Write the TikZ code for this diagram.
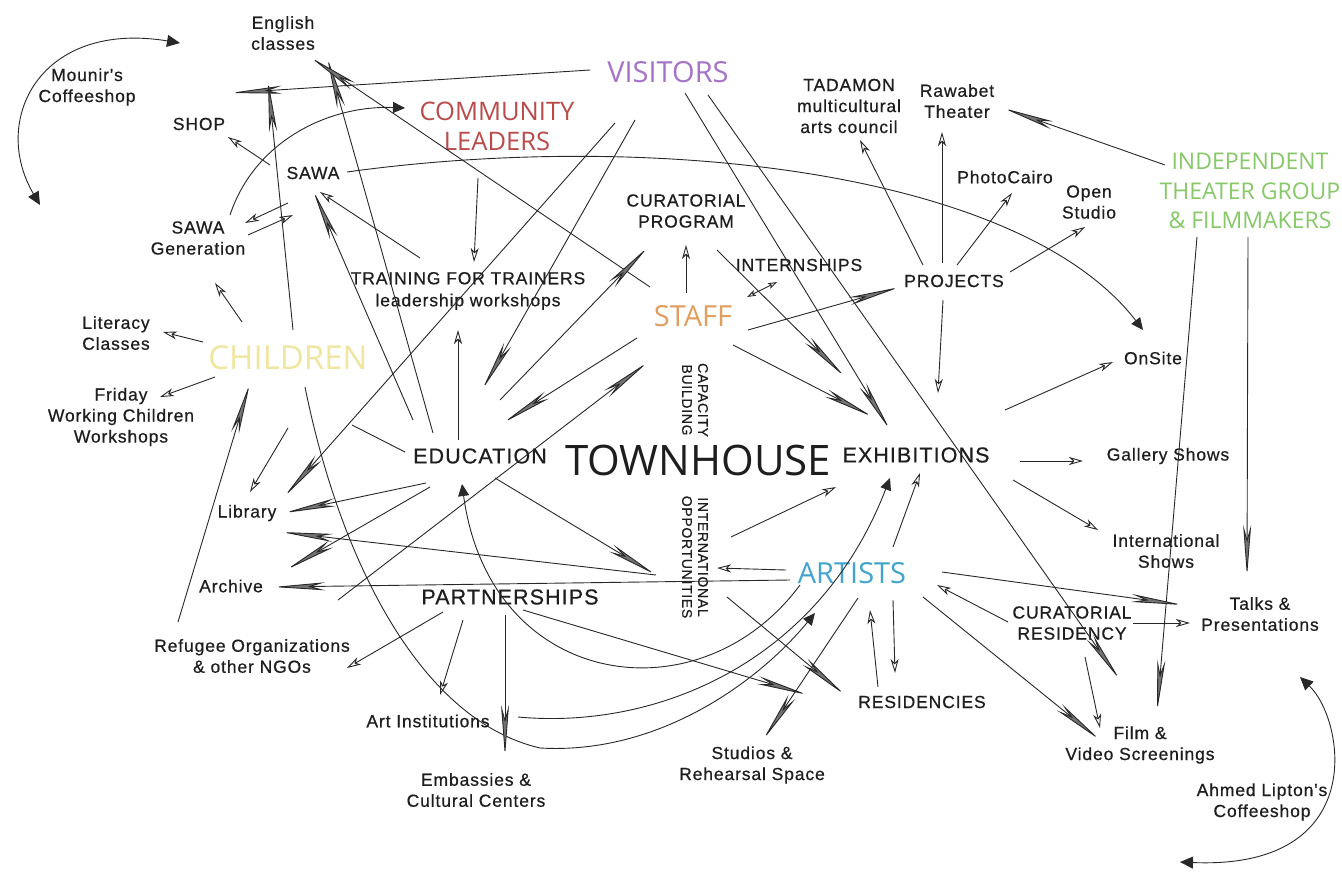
\documentclass[tikz,border=0pt]{standalone}
\usepackage{fontspec}
\setmainfont{Liberation Sans}
\newfontfamily\labfnt{Liberation Sans}[LetterSpace=5,FakeBold=0.6]
\newfontfamily\osfnt{Open Sans}
\usetikzlibrary{arrows.meta,calc}
\definecolor{ln}{RGB}{40,40,40}
\definecolor{txt}{RGB}{30,30,30}
\definecolor{visC}{RGB}{165,115,200}
\definecolor{comC}{RGB}{185,75,75}
\definecolor{stfC}{RGB}{225,158,95}
\definecolor{chlC}{RGB}{240,230,160}
\definecolor{artC}{RGB}{65,165,205}
\definecolor{indC}{RGB}{135,200,105}
\tikzset{
  lab/.style={font=\labfnt\fontsize{17.5}{21}\selectfont, align=center, inner sep=0pt, text=txt},
  capl/.style={font=\labfnt\fontsize{21.5}{25}\selectfont, align=center, inner sep=0pt, text=txt},
  rotl/.style={font=\labfnt\fontsize{14}{16}\selectfont, align=center, inner sep=0pt, text=txt, rotate=-90},
  hub/.style={align=center, inner sep=0pt},
  conn/.style={draw=ln, line width=0.9pt},
  wedge/.style={conn, -{Stealth[length=52pt,width=8pt,inset=14pt,fill=black!55,color=ln]}},
  opn/.style={conn, -{Stealth[length=14pt,width=8pt,inset=4pt,open]}},
  dbl/.style={conn, {Stealth[length=9pt,width=6pt,inset=2pt,open]}-{Stealth[length=9pt,width=6pt,inset=2pt,open]}},
  tri/.style={conn, -{Triangle[length=12pt,width=11pt]}},
  tri2/.style={conn, {Triangle[length=13pt,width=12pt]}-{Triangle[length=13pt,width=12pt]}},
  plain/.style={conn}
}
\begin{document}
\begin{tikzpicture}[x=1pt,y=-1pt]
\useasboundingbox (0,0) rectangle (1342,873);
\fill[white] (0,0) rectangle (1342,873);

% ---------- nodes ----------
\node[lab] (mounir) at (87,87) {Mounir's\\Coffeeshop};
\node[lab] (english) at (283,33) {English\\classes};
\node[lab] (shop) at (199,124) {SHOP};
\node[lab] (sawa) at (313,173) {SAWA};
\node[lab] (sawagen) at (198,238) {SAWA\\Generation};
\node[hub, font=\osfnt\fontsize{25.5}{30}\selectfont, text=comC] (community) at (497,126) {COMMUNITY\\LEADERS};
\node[hub, font=\osfnt\fontsize{29}{34}\selectfont, text=visC] (visitors) at (668,72) {VISITORS};
\node[lab] (tadamon) at (849,106) {TADAMON\\multicultural\\arts council};
\node[lab] (rawabet) at (957,101) {Rawabet\\Theater};
\node[lab] (photocairo) at (1005,177) {PhotoCairo};
\node[lab] (openstudio) at (1089,202) {Open\\Studio};
\node[hub, font=\osfnt\fontsize{23}{29.5}\selectfont, text=indC] (indep) at (1250,191) {INDEPENDENT\\THEATER GROUP\\\& FILMMAKERS};
\node[lab] (curprog) at (686,211) {CURATORIAL\\PROGRAM};
\node[lab] (intern) at (799,265) {INTERNSHIPS};
\node[lab] (projects) at (954,281) {PROJECTS};
\node[lab, font=\labfnt\fontsize{17.5}{22}\selectfont] (training) at (468,291) {TRAINING FOR TRAINERS\\leadership workshops};
\node[hub, font=\osfnt\fontsize{29}{34}\selectfont, text=stfC] (staff) at (693,316) {STAFF};
\node[rotl] (capacity) at (695,400) {CAPACITY\\BUILDING};
\node[rotl] (intl) at (695,557) {INTERNATIONAL\\OPPORTUNITIES};
\node[hub, font=\osfnt\fontsize{42}{48}\selectfont, text=txt] (townhouse) at (698,460) {TOWNHOUSE};
\node[capl] (education) at (480,456) {EDUCATION};
\node[capl] (exhibitions) at (916,455) {EXHIBITIONS};
\node[hub, font=\osfnt\fontsize{33}{38}\selectfont, text=chlC] (children) at (288,358) {CHILDREN};
\node[lab] (literacy) at (116,333) {Literacy\\Classes};
\node[lab] (friday) at (121,417) {Friday\\Working Children\\Workshops};
\node[lab] (library) at (247,513) {Library};
\node[lab] (archive) at (231,586) {Archive};
\node[lab] (refugee) at (252,656) {Refugee Organizations\\\& other NGOs};
\node[capl] (partnerships) at (510,597) {PARTNERSHIPS};
\node[lab] (artinst) at (428,721) {Art Institutions};
\node[lab] (embassies) at (476,790) {Embassies \&\\Cultural Centers};
\node[lab] (studios) at (752,765) {Studios \&\\Rehearsal Space};
\node[hub, font=\osfnt\fontsize{29}{34}\selectfont, text=artC] (artists) at (852,573) {ARTISTS};
\node[lab] (residencies) at (922,702) {RESIDENCIES};
\node[lab] (curres) at (1072,623) {CURATORIAL\\RESIDENCY};
\node[lab] (talks) at (1260,614) {Talks \&\\Presentations};
\node[lab] (film) at (1140,745) {Film \&\\Video Screenings};
\node[lab] (ahmed) at (1262,802) {Ahmed Lipton's\\Coffeeshop};
\node[lab] (onsite) at (1153,358) {OnSite};
\node[lab] (gallery) at (1168,456) {Gallery Shows};
\node[lab] (intshows) at (1166,551) {International\\Shows};

% free ends
\coordinate (mA) at (180,43);
\coordinate (mB) at (40,205);
\coordinate (aA) at (1300,677);
\coordinate (aB) at (1180,862);
\coordinate (vL) at (230,93);
\coordinate (cTop) at (268,80);
\coordinate (sL) at (338,600);
\coordinate (eL) at (352,425);

% ---------- coffeeshop loops ----------
\draw[tri2] (mA) .. controls (40,20) and (-10,120) .. (mB);
\draw[tri2] (aA) .. controls (1345,720) and (1370,870) .. (aB);

% ---------- top-left ----------
\draw[wedge] ($(visitors)+(-78,-2)$) -- (vL);
\draw[wedge] ($(children)+(5,-28)$) -- (cTop);
\draw[wedge] ($(education)+(-47,-23)$) -- ($(english)+(44,24)$);
\draw[wedge] ($(education)+(-67,-36)$) -- ($(sawa)+(0,17)$);
\draw[wedge] ($(staff)+(-43,-29)$) -- ($(english)+(27,24)$);
\draw[tri] ($(sawagen)+(32,-23)$) .. controls (255,140) and (330,105) .. ($(community)+(-92,-18)$);
\draw[tri] ($(sawa)+(34,-1)$) .. controls (650,130) and (1020,170) .. ($(onsite)+(-10,-28)$);
\draw[opn] ($(sawa)+(-43,-8)$) -- ($(shop)+(29,13)$);
\draw[opn] ($(sawa)+(-25,30)$) -- ($(sawagen)+(47,-15)$);
\draw[opn] ($(sawagen)+(50,-3)$) -- ($(sawa)+(-20,42)$);
\draw[opn] ($(training)+(-48,-33)$) -- ($(sawa)+(7,19)$);

% ---------- children ----------
\draw[opn] ($(children)+(-46,-36)$) -- ($(sawagen)+(17,45)$);
\draw[opn] ($(children)+(-85,-16)$) -- ($(literacy)+(47,-1)$);
\draw[opn] ($(children)+(-73,19)$) -- ($(friday)+(39,-20)$);
\draw[opn] ($(children)+(0,70)$) -- ($(library)+(3,-21)$);
\draw[wedge] ($(refugee)+(-74,-34)$) -- ($(children)+(-38,25)$);
\draw[tri] ($(children)+(17,29)$) .. controls (340,560) and (420,720) .. (540,748)
   .. controls (660,755) and (760,680) .. ($(artists)+(-37,40)$);

% ---------- arcs to artists / exhibitions / education ----------
\draw[tri] ($(artists)+(-52,12)$) .. controls (700,720) and (490,690) .. ($(education)+(-18,28)$);
\draw[tri] ($(artinst)+(90,-4)$) .. controls (660,730) and (820,660) .. ($(exhibitions)+(-26,23)$);

% ---------- partnerships ----------
\draw[wedge] ($(partnerships)+(-5,18)$) -- ($(embassies)+(29,-33)$);
\draw[opn] ($(partnerships)+(-47,23)$) -- ($(artinst)+(12,-26)$);
\draw[opn] ($(partnerships)+(-67,15)$) -- ($(refugee)+(95,12)$);
\draw[wedge] ($(partnerships)+(13,13)$) -- ($(residencies)+(-114,-7)$);

% ---------- library / archive ----------
\draw[wedge] ($(artists)+(-62,7)$) -- ($(archive)+(42,1)$);
\draw[wedge] ($(intl)+(-39,18)$) -- ($(library)+(34,19)$);
\draw[opn] ($(artists)+(-66,-3)$) -- ($(intl)+(22,11)$);
\draw[wedge] ($(education)+(-54,27)$) -- ($(library)+(37,0)$);
\draw[wedge] ($(education)+(-50,31)$) -- ($(archive)+(55,-16)$);
\draw[wedge] (sL) -- ($(staff)+(-45,46)$);
\draw[wedge] ($(education)+(15,22)$) -- ($(intl)+(-39,18)$);

% ---------- visitors / education / training ----------
\draw[wedge] ($(visitors)+(-53,51)$) -- ($(library)+(37,-16)$);
\draw[wedge] ($(visitors)+(-33,48)$) -- ($(education)+(2,-66)$);
\draw[wedge] ($(education)+(20,-56)$) -- ($(curprog)+(-38,36)$);
\draw[opn] ($(community)+(-19,52)$) -- ($(training)+(6,-29)$);
\draw[opn] ($(education)+(-22,-16)$) -- ($(training)+(-10,39)$);
\draw[plain] ($(education)+(-75,-4)$) -- (eL);

% ---------- staff ----------
\draw[wedge] ($(staff)+(-56,22)$) -- ($(education)+(23,-33)$);
\draw[opn] ($(staff)+(-7,-23)$) -- ($(curprog)+(0,34)$);
\draw[dbl] ($(staff)+(54,-19)$) -- ($(intern)+(-22,17)$);
\draw[wedge] ($(staff)+(55,14)$) -- ($(projects)+(-54,6)$);
\draw[wedge] ($(staff)+(40,29)$) -- ($(exhibitions)+(-43,-38)$);
\draw[wedge] ($(curprog)+(31,39)$) -- ($(exhibitions)+(-71,-78)$);
\draw[wedge] ($(visitors)+(17,21)$) -- ($(exhibitions)+(-26,-25)$);
\draw[wedge] ($(visitors)+(40,23)$) -- ($(film)+(-20,-65)$);

% ---------- projects ----------
\draw[opn] ($(projects)+(-31,-16)$) -- ($(tadamon)+(11,34)$);
\draw[opn] ($(projects)+(-12,-18)$) -- ($(rawabet)+(-15,31)$);
\draw[opn] ($(projects)+(3,-16)$) -- ($(photocairo)+(7,16)$);
\draw[opn] ($(projects)+(56,-9)$) -- ($(openstudio)+(-4,25)$);
\draw[opn] ($(projects)+(-11,19)$) -- ($(exhibitions)+(22,-62)$);

% ---------- independent ----------
\draw[wedge] ($(indep)+(-85,-26)$) -- ($(rawabet)+(46,7)$);
\draw[wedge] ($(indep)+(-53,46)$) -- ($(film)+(17,-33)$);
\draw[wedge] ($(indep)+(-2,46)$) -- ($(talks)+(-13,-37)$);

% ---------- exhibitions ----------
\draw[opn] ($(exhibitions)+(89,-45)$) -- ($(onsite)+(-40,4)$);
\draw[opn] ($(exhibitions)+(104,6)$) -- ($(gallery)+(-85,5)$);
\draw[opn] ($(exhibitions)+(97,25)$) -- ($(intshows)+(-68,-21)$);
\draw[opn] ($(artists)+(41,-26)$) -- ($(exhibitions)+(4,18)$);
\draw[opn] ($(intl)+(36,-20)$) -- ($(exhibitions)+(-80,32)$);

% ---------- artists ----------
\draw[opn] ($(residencies)+(-44,-15)$) -- ($(artists)+(18,37)$);
\draw[opn] ($(artists)+(41,27)$) -- ($(residencies)+(-27,-29)$);
\draw[wedge] ($(intl)+(32,40)$) -- ($(residencies)+(-77,-7)$);
\draw[wedge] ($(artists)+(6,25)$) -- ($(studios)+(11,-25)$);
\draw[opn] ($(curres)+(-64,-1)$) -- ($(artists)+(85,12)$);
\draw[wedge] ($(artists)+(71,24)$) -- ($(film)+(-40,-5)$);
\draw[opn] ($(curres)+(13,34)$) -- ($(film)+(-40,-17)$);
\draw[opn] ($(curres)+(61,0)$) -- ($(talks)+(-70,9)$);
\draw[wedge] ($(artists)+(90,-1)$) -- ($(talks)+(-77,-9)$);
\end{tikzpicture}
\end{document}
